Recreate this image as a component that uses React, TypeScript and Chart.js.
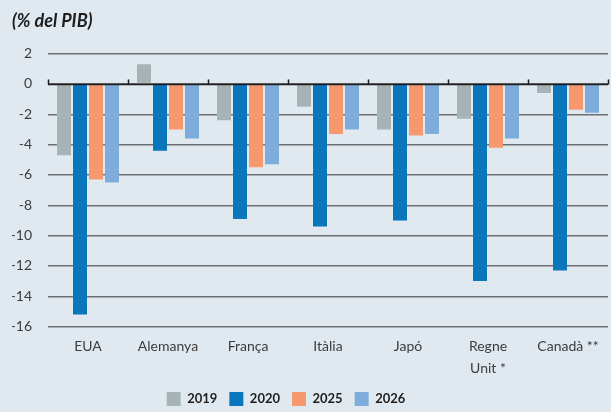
import React, { useEffect, useRef } from "react";
import { Chart, registerables } from "chart.js";

Chart.register(...registerables);

const categories: (string | string[])[] = ["EUA", "Alemanya", "França", "Itàlia", "Japó", ["Regne", "Unit *"], "Canadà **"];
const series2019 = [-4.7, 1.3, -2.4, -1.5, -3.0, -2.3, -0.6];
const series2020 = [-15.2, -4.4, -8.9, -9.4, -9.0, -13.0, -12.3];
const series2025 = [-6.3, -3.0, -5.5, -3.3, -3.4, -4.2, -1.7];
const series2026 = [-6.5, -3.6, -5.3, -3.0, -3.3, -3.6, -1.9];
const seriesLabels = ["2019", "2020", "2025", "2026"];
const seriesColors = ["#a6b4b8", "#0a77bd", "#f7996e", "#7eaddc"];
const yMin = -16;
const yMax = 2;
const yStep = 2;
const titleText = "(% del PIB)";

const zeroLinePlugin = {
  id: "zeroLine",
  afterLayout(chart: any) {
    if (chart.legend) {
      chart.legend.left -= 24;
      chart.legend.right -= 24;
    }
  },
  afterDatasetsDraw(chart: any) {
    const { ctx, chartArea, scales } = chart;
    const y = Math.round(scales.y.getPixelForValue(0)) + 0.5;
    ctx.save();
    ctx.strokeStyle = "#1e1e1e";
    ctx.lineWidth = 1.5;
    ctx.beginPath();
    ctx.moveTo(chartArea.left, y);
    ctx.lineTo(chartArea.right, y);
    const n = categories.length;
    const step = scales.x.getPixelForValue(1) - scales.x.getPixelForValue(0);
    for (let i = 0; i <= n; i++) {
      const x = i < n
        ? scales.x.getPixelForValue(i) - step / 2
        : scales.x.getPixelForValue(n - 1) + step / 2;
      const xr = Math.round(x) + 0.5;
      ctx.moveTo(xr, y);
      ctx.lineTo(xr, y - 5);
    }
    ctx.stroke();
    ctx.restore();
  },
};

export default function App() {
  const ref = useRef<HTMLCanvasElement | null>(null);
  useEffect(() => {
    document.body.style.margin = "0";
    if (!ref.current) return;
    const data = [series2019, series2020, series2025, series2026];
    const chart = new Chart(ref.current, {
      type: "bar",
      data: {
        labels: categories as any,
        datasets: data.map((d, i) => ({
          label: seriesLabels[i],
          data: d,
          backgroundColor: seriesColors[i],
          borderWidth: 0,
          categoryPercentage: 0.8,
          barPercentage: 0.875,
        })),
      },
      plugins: [zeroLinePlugin],
      options: {
        animation: false,
        responsive: false,
        maintainAspectRatio: false,
        layout: { padding: { left: 12, right: 3, top: 0, bottom: -4 } },
        plugins: {
          title: {
            display: true,
            text: titleText,
            align: "start",
            color: "#1e1e1e",
            font: { family: "Lato", size: 18, style: "italic" },
            padding: { top: 10, bottom: 22 },
          },
          legend: {
            position: "bottom",
            labels: {
              boxWidth: 14,
              boxHeight: 14,
              padding: 12,
              color: "#1e1e1e",
              font: { family: "Lato", size: 13, weight: "bold" },
            },
          },
          tooltip: { enabled: false },
        },
        scales: {
          x: {
            grid: { display: false },
            border: { display: false },
            ticks: {
              color: "#3c3c3c",
              font: { family: "Lato", size: 14, lineHeight: 1.55 },
              padding: 1,
              maxRotation: 0,
              autoSkip: false,
            },
          },
          y: {
            min: yMin,
            max: yMax,
            afterFit(scale: any) {
              scale.width = 36;
            },
            grid: {
              color: "#6d7073",
              lineWidth: 1.5,
              drawTicks: false,
              tickLength: 0,
            },
            border: { display: false },
            ticks: {
              stepSize: yStep,
              color: "#3c3c3c",
              padding: 16,
              font: { family: "Lato", size: 14 },
            },
          },
        },
      },
    });
    return () => chart.destroy();
  }, []);
  return (
    <div style={{ width: 611, height: 412, background: "#e1e9f0" }}>
      <canvas ref={ref} width={611} height={412} style={{ display: "block" }} />
    </div>
  );
}
